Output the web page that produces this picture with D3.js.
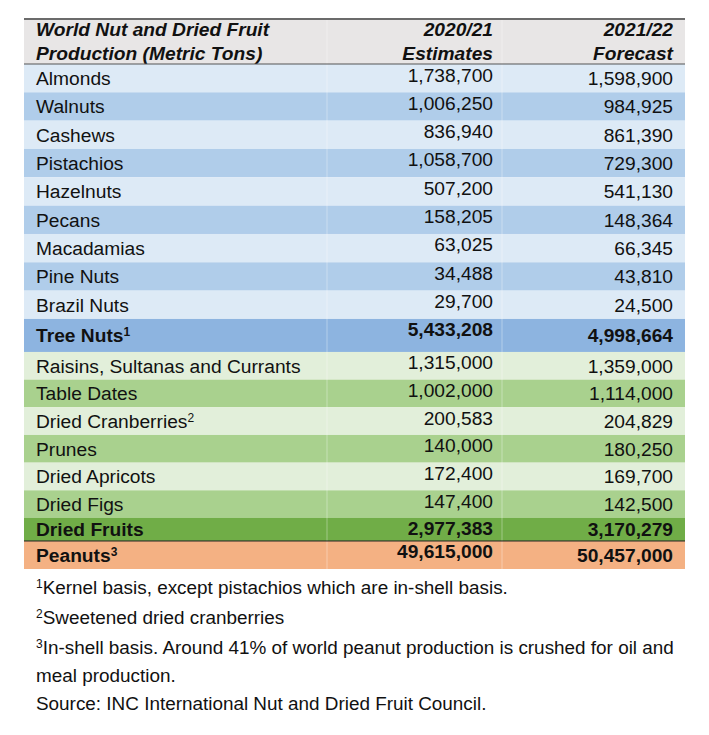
<!DOCTYPE html>
<html>
<head>
<meta charset="utf-8">
<script src="https://cdn.jsdelivr.net/npm/d3@7"></script>
<style>
  html, body { margin: 0; padding: 0; background: #ffffff; }
  svg { display: block; }
  text { font-family: "Liberation Sans", Arial, sans-serif; fill: #111; }
</style>
</head>
<body>
<svg id="chart" width="709" height="735"></svg>
<script>
// ---------------- DATA ----------------
const headerTitle = ["World Nut and Dried Fruit", "Production (Metric Tons)"];
const headerEstimates = ["2020/21", "Estimates"];
const headerForecast = ["2021/22", "Forecast"];

const categories = [
  "Almonds", "Walnuts", "Cashews", "Pistachios", "Hazelnuts", "Pecans",
  "Macadamias", "Pine Nuts", "Brazil Nuts", "Tree Nuts",
  "Raisins, Sultanas and Currants", "Table Dates", "Dried Cranberries",
  "Prunes", "Dried Apricots", "Dried Figs", "Dried Fruits", "Peanuts"
];
const noteMarks = ["", "", "", "", "", "", "", "", "", "1", "", "", "2", "", "", "", "", "3"];
const groups = [
  "tree", "tree", "tree", "tree", "tree", "tree", "tree", "tree", "tree", "treeTotal",
  "fruit", "fruit", "fruit", "fruit", "fruit", "fruit", "fruitTotal", "peanut"
];
const estimates2021 = [
  1738700, 1006250, 836940, 1058700, 507200, 158205, 63025, 34488, 29700, 5433208,
  1315000, 1002000, 200583, 140000, 172400, 147400, 2977383, 49615000
];
const forecast2122 = [
  1598900, 984925, 861390, 729300, 541130, 148364, 66345, 43810, 24500, 4998664,
  1359000, 1114000, 204829, 180250, 169700, 142500, 3170279, 50457000
];
const footnoteMarks = ["1", "2", "3", "", ""];
const footnotes = [
  "Kernel basis, except pistachios which are in-shell basis.",
  "Sweetened dried cranberries",
  "In-shell basis. Around 41% of world peanut production is crushed for oil and",
  "meal production.",
  "Source: INC International Nut and Dried Fruit Council."
];

// ---------------- LAYOUT ----------------
const svg = d3.select("#chart");
const tableLeft = 24, tableRight = 685;
const tableTop = 19, headerBottom = 64;
const fontSize = 19.2;
const footSize = 18.9;

const rowHeight = { tree: 28.33, treeTotal: 33, fruit: 27.67, fruitTotal: 23, peanut: 28 };
const tops = [];
let acc = headerBottom;
groups.forEach(g => { tops.push(acc); acc += rowHeight[g]; });
const tableBottom = acc;

const yTop = d3.scaleOrdinal(categories, tops);
const xCol = d3.scaleOrdinal(["label", "est", "fc"], [36, 493, 673]);
const fmt = d3.format(",");

const colorOf = (g, i) => {
  const idxInGroup = categories.slice(0, i).filter((c, j) => groups[j] === g).length;
  if (g === "tree") return idxInGroup % 2 === 0 ? "#ddeaf6" : "#b0cdea";
  if (g === "treeTotal") return "#8db4e0";
  if (g === "fruit") return idxInGroup % 2 === 0 ? "#e2efda" : "#a9d18e";
  if (g === "fruitTotal") return "#70ad47";
  return "#f4b183";
};
const isBold = g => g === "treeTotal" || g === "fruitTotal" || g === "peanut";

// header background
svg.append("rect")
  .attr("x", tableLeft).attr("y", tableTop)
  .attr("width", tableRight - tableLeft).attr("height", headerBottom - tableTop)
  .attr("fill", "#e8e6e6");

// rows
const rows = svg.append("g").selectAll("g.row")
  .data(categories.map((c, i) => ({ c, i, g: groups[i], h: rowHeight[groups[i]] })))
  .join("g").attr("class", "row");

rows.append("rect")
  .attr("x", tableLeft).attr("y", d => yTop(d.c))
  .attr("width", tableRight - tableLeft).attr("height", d => d.h)
  .attr("fill", d => colorOf(d.g, d.i));

// column divider (faint)
[327, 502].forEach(x => {
  svg.append("line")
    .attr("x1", x).attr("x2", x).attr("y1", tableTop).attr("y2", tableBottom)
    .attr("stroke", "#ffffff").attr("stroke-opacity", 0.35).attr("stroke-width", 1);
});

// labels
const lab = rows.append("text")
  .attr("x", xCol("label"))
  .attr("y", d => yTop(d.c) + d.h / 2 + 7)
  .attr("font-size", fontSize)
  .attr("font-weight", d => isBold(d.g) ? "bold" : "normal");
lab.append("tspan").text(d => d.c);
lab.append("tspan")
  .attr("font-size", 12).attr("dy", -6)
  .text(d => noteMarks[d.i]);

// estimates column
rows.append("text")
  .attr("x", xCol("est"))
  .attr("y", d => yTop(d.c) + 17.5)
  .attr("text-anchor", "end")
  .attr("font-size", fontSize)
  .attr("font-weight", d => isBold(d.g) ? "bold" : "normal")
  .text(d => fmt(estimates2021[d.i]));

// forecast column
rows.append("text")
  .attr("x", xCol("fc"))
  .attr("y", d => yTop(d.c) + d.h / 2 + 7)
  .attr("text-anchor", "end")
  .attr("font-size", fontSize)
  .attr("font-weight", d => isBold(d.g) ? "bold" : "normal")
  .text(d => fmt(forecast2122[d.i]));

// header texts
const headerBaselines = [36, 59.5];
const hdr = [
  { lines: headerTitle, x: xCol("label"), anchor: "start" },
  { lines: headerEstimates, x: xCol("est"), anchor: "end" },
  { lines: headerForecast, x: xCol("fc"), anchor: "end" }
];
hdr.forEach(h => {
  h.lines.forEach((t, k) => {
    svg.append("text")
      .attr("x", h.x).attr("y", headerBaselines[k])
      .attr("text-anchor", h.anchor)
      .attr("font-size", fontSize)
      .attr("font-weight", "bold").attr("font-style", "italic")
      .text(t);
  });
});

// borders
svg.append("line")
  .attr("x1", tableLeft).attr("x2", tableRight).attr("y1", tableTop).attr("y2", tableTop)
  .attr("stroke", "#6b6b6b").attr("stroke-width", 2);
svg.append("line")
  .attr("x1", tableLeft).attr("x2", tableRight).attr("y1", headerBottom).attr("y2", headerBottom)
  .attr("stroke", "#555").attr("stroke-width", 1);
const peanutTop = yTop("Peanuts");
svg.append("line")
  .attr("x1", tableLeft).attr("x2", tableRight).attr("y1", peanutTop).attr("y2", peanutTop)
  .attr("stroke", "#222").attr("stroke-width", 1);

// footnotes
const footBaselines = [594, 624, 654, 682, 710];
footnotes.forEach((t, k) => {
  const tx = svg.append("text")
    .attr("x", 36).attr("y", footBaselines[k])
    .attr("font-size", footSize);
  if (footnoteMarks[k]) {
    tx.append("tspan").attr("font-size", 12).attr("dy", -6).text(footnoteMarks[k]);
    tx.append("tspan").attr("dy", 6).text(t);
  } else {
    tx.append("tspan").text(t);
  }
});
</script>
</body>
</html>
